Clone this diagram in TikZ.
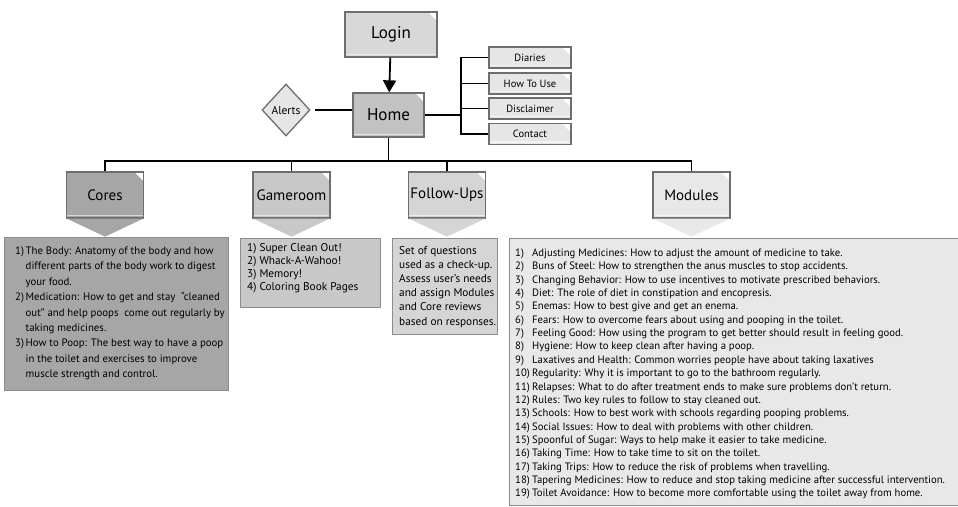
\documentclass[tikz,border=0pt]{standalone}
\usepackage{fontspec}
\setmainfont{PT Sans}
\usetikzlibrary{shapes.geometric,arrows.meta,calc}
\definecolor{cLogin}{HTML}{D8D8D8}
\definecolor{cHome}{HTML}{C2C2C2}
\definecolor{cSmall}{HTML}{E6E6E6}
\definecolor{cCores}{HTML}{A6A6A6}
\definecolor{cGame}{HTML}{C8C8C8}
\definecolor{cFollow}{HTML}{D5D5D5}
\definecolor{cMod}{HTML}{E8E8E8}
\definecolor{cBorder}{HTML}{6E6E6E}
\tikzset{
  bevel/.style={draw=cBorder, line width=1.3pt, inner sep=0pt,
    path picture={
      \fill[white] ([xshift=-9pt]path picture bounding box.north east) -- (path picture bounding box.north east) -- ([yshift=-9pt]path picture bounding box.north east) -- cycle;
      \draw[white, opacity=0.55, line width=1.4pt] ([yshift=2.5pt]path picture bounding box.south west) -- ([yshift=2.5pt]path picture bounding box.south east);
    }},
  smallbox/.style={bevel, fill=cSmall, minimum width=82pt, minimum height=21pt, font=\fontsize{10.5}{12}\selectfont},
  catbox/.style={bevel, minimum width=77pt, minimum height=46pt, font=\fontsize{15}{18}\selectfont},
  descbox/.style={draw=black!45, line width=1pt, anchor=north west, inner sep=0pt},
  desctext/.style={anchor=base west, inner sep=0pt},
  conn/.style={line width=1.7pt, black},
  tail/.style={draw=none},
}
\begin{document}
\begin{tikzpicture}[x=1pt, y=-1pt]
\useasboundingbox (0,0) rectangle (958,506);
\fill[white] (0,0) rectangle (958,506);

% top
\node[bevel, fill=cLogin, minimum width=92pt, minimum height=45pt, font=\fontsize{17}{20}\selectfont] (login) at (391,34.5) {Login};
\node[bevel, fill=cHome, minimum width=71pt, minimum height=44pt, font=\fontsize{17}{20}\selectfont] (home) at (388.5,115) {Home};
\draw[line width=1.8pt, -{Triangle[length=12pt,width=13pt]}] (login) -- (home);

\node[diamond, draw=cBorder, line width=1.3pt, fill=cSmall, minimum width=48pt, minimum height=52pt, inner sep=0pt, font=\fontsize{11.5}{13}\selectfont] (alerts) at (286,110) {Alerts};
\draw[conn] (alerts.east) ++(4pt,0) coordinate (aE) (aE) -- (aE -| home.west);

\node[smallbox] (diaries) at (530,57.5) {Diaries};
\node[smallbox] (howto) at (530,83.5) {How To Use};
\node[smallbox] (disclaimer) at (530,108.5) {Disclaimer};
\node[smallbox] (contact) at (530,134) {Contact};
\coordinate (brk) at (461,0);
\draw[conn] (home.east) -- (home.east -| brk);
\draw[conn] (diaries.west) -- (diaries.west -| brk) -- (contact.west -| brk) -- (contact.west);
\draw[conn] (howto.west) -- (howto.west -| brk);
\draw[conn] (disclaimer.west) -- (disclaimer.west -| brk);

% categories
\node[catbox, fill=cCores] (cores) at (105,195) {Cores};
\node[catbox, fill=cGame] (gameroom) at (291.5,195) {Gameroom};
\node[catbox, fill=cFollow] (followups) at (447,195) {Follow-Ups};
\node[catbox, fill=cMod] (modules) at (691.5,195) {Modules};
\coordinate (bus) at (0,161);
\draw[conn] (home.south) -- (home.south |- bus);
\draw[conn] (cores.north) -- (cores.north |- bus) -- (modules.north |- bus) -- (modules.north);
\draw[conn] (gameroom.north) -- (gameroom.north |- bus);
\draw[conn] (followups.north) -- (followups.north |- bus);

\foreach \n/\c in {cores/cCores, gameroom/cGame, followups/cFollow, modules/cMod}{
  \fill[\c, tail] ([xshift=1pt]\n.south west) -- ([xshift=-1pt]\n.south east) -- ($(\n.south)+(0,18)$) -- cycle;
}

% description boxes
\node[descbox, fill=cCores, minimum width=224pt, minimum height=153pt] (coresd) at (4,237) {};
\node[desctext, font=\fontsize{10.8}{15.4}\selectfont] (coresdt) at (15,254.5) {\parbox[t]{212pt}{\raggedright
\makebox[10.5pt][l]{1)}The Body: Anatomy of the body and how\\
\hspace*{10.5pt}different parts of the body work to digest\\
\hspace*{10.5pt}your food.\\
\makebox[10.5pt][l]{2)}Medication: How to get and stay \ “cleaned\\
\hspace*{10.5pt}out” and help poops \ come out regularly by\\
\hspace*{10.5pt}taking medicines.\\
\makebox[10.5pt][l]{3)}How to Poop: The best way to have a poop\\
\hspace*{10.5pt}in the toilet and exercises to improve\\
\hspace*{10.5pt}muscle strength and control.}};

\node[descbox, fill=cGame, minimum width=140pt, minimum height=69pt] (gamed) at (240,238) {};
\node[desctext, font=\fontsize{11.3}{13}\selectfont] (gamedt) at (247,251) {\parbox[t]{130pt}{\raggedright
1) Super Clean Out!\\
2) Whack-A-Wahoo!\\
3) Memory!\\
4) Coloring Book Pages}};

\node[descbox, fill=cFollow, minimum width=105pt, minimum height=96pt] (followd) at (392,238) {};
\node[desctext, font=\fontsize{11.3}{14.2}\selectfont] (followdt) at (399,254) {\parbox[t]{100pt}{\raggedright
Set of questions\\
used as a check-up.\\
Assess user’s needs\\
and assign Modules\\
and Core reviews\\
based on responses.}};

\node[descbox, fill=cMod, minimum width=452pt, minimum height=267pt] (modd) at (509,238) {};
\node[desctext, font=\fontsize{10.7}{13.35}\selectfont] (moddt) at (515,256.5) {\parbox[t]{440pt}{\raggedright
\makebox[17pt][l]{1)}Adjusting Medicines: How to adjust the amount of medicine to take.\\
\makebox[17pt][l]{2)}Buns of Steel: How to strengthen the anus muscles to stop accidents.\\
\makebox[17pt][l]{3)}Changing Behavior: How to use incentives to motivate prescribed behaviors.\\
\makebox[17pt][l]{4)}Diet: The role of diet in constipation and encopresis.\\
\makebox[17pt][l]{5)}Enemas: How to best give and get an enema.\\
\makebox[17pt][l]{6)}Fears: How to overcome fears about using and pooping in the toilet.\\
\makebox[17pt][l]{7)}Feeling Good: How using the program to get better should result in feeling good.\\
\makebox[17pt][l]{8)}Hygiene: How to keep clean after having a poop.\\
\makebox[17pt][l]{9)}Laxatives and Health: Common worries people have about taking laxatives\\
\makebox[17pt][l]{10)}Regularity: Why it is important to go to the bathroom regularly.\\
\makebox[17pt][l]{11)}Relapses: What to do after treatment ends to make sure problems don’t return.\\
\makebox[17pt][l]{12)}Rules: Two key rules to follow to stay cleaned out.\\
\makebox[17pt][l]{13)}Schools: How to best work with schools regarding pooping problems.\\
\makebox[17pt][l]{14)}Social Issues: How to deal with problems with other children.\\
\makebox[17pt][l]{15)}Spoonful of Sugar: Ways to help make it easier to take medicine.\\
\makebox[17pt][l]{16)}Taking Time: How to take time to sit on the toilet.\\
\makebox[17pt][l]{17)}Taking Trips: How to reduce the risk of problems when travelling.\\
\makebox[17pt][l]{18)}Tapering Medicines: How to reduce and stop taking medicine after successful intervention.\\
\makebox[17pt][l]{19)}Toilet Avoidance: How to become more comfortable using the toilet away from home.}};
\end{tikzpicture}
\end{document}
